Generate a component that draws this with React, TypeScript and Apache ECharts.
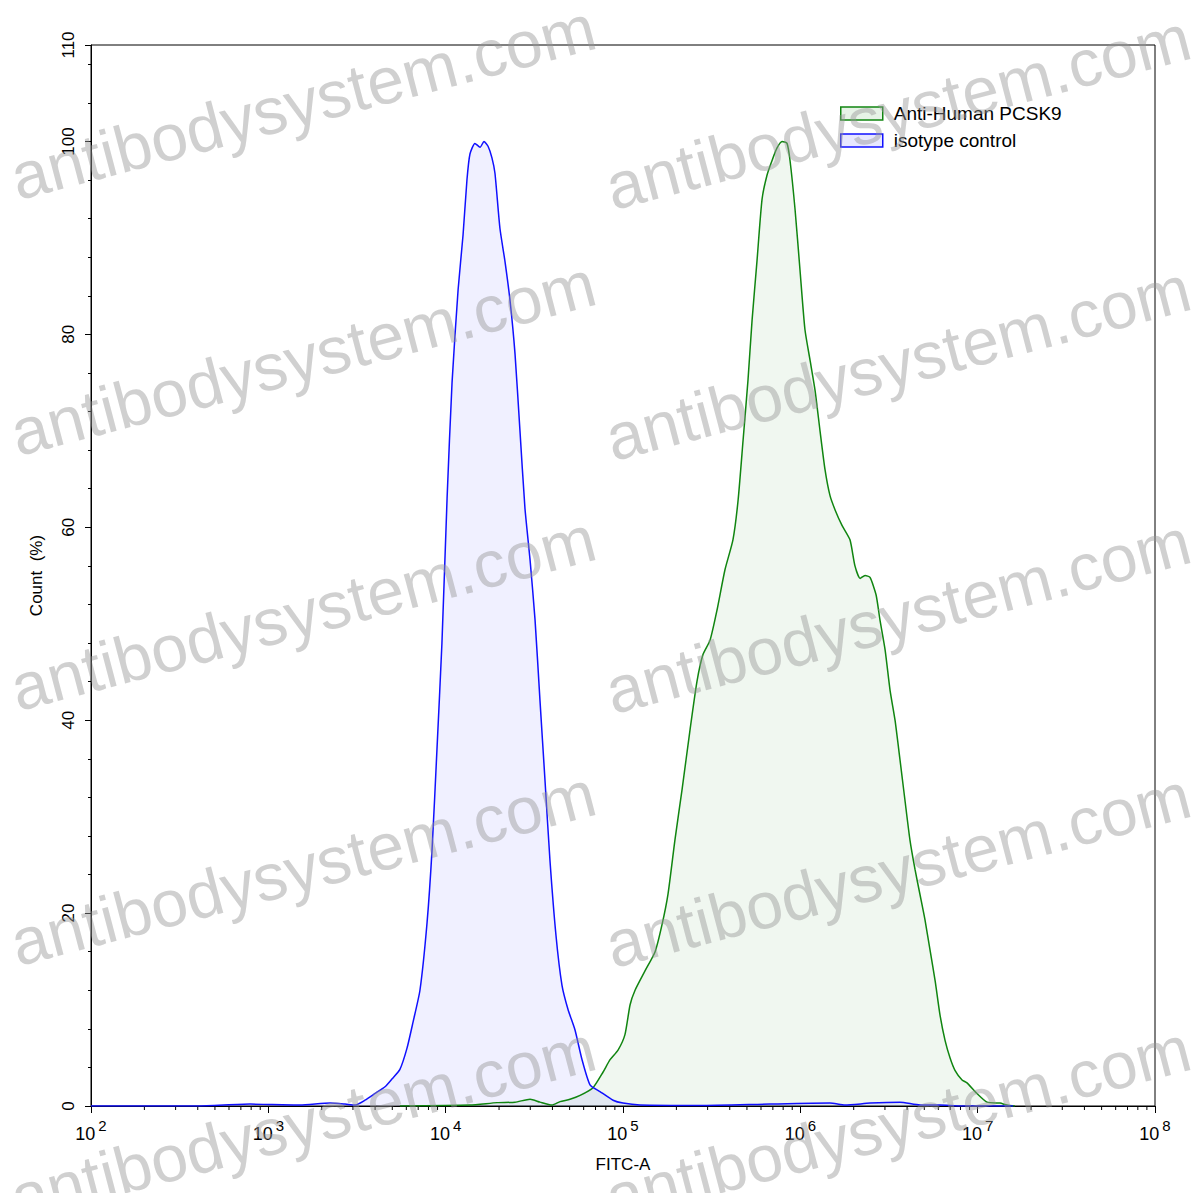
import React, { useEffect, useRef } from "react";
import * as echarts from "echarts";

// x values are log10(FITC-A)
const isotypeX = [2.0, 2.6, 2.897, 3.009, 3.179, 3.348, 3.432, 3.489, 3.545, 3.602, 3.658, 3.697, 3.742, 3.782, 3.816, 3.855, 3.895, 3.923, 3.951, 3.979, 4.008, 4.036, 4.07, 4.098, 4.12, 4.137, 4.165, 4.194, 4.216, 4.239, 4.261, 4.278, 4.306, 4.335, 4.363, 4.391, 4.419, 4.447, 4.476, 4.504, 4.532, 4.56, 4.588, 4.622, 4.656, 4.69, 4.729, 4.769, 4.814, 4.87, 4.944, 5.0, 5.096, 5.434, 5.829, 6.167, 6.252, 6.393, 6.562, 6.675, 6.788, 6.9, 7.2];
const isotypeY = [0, 0, 0.2, 0.15, 0.1, 0.3, 0.2, 0.1, 0.6, 1.3, 2.0, 2.8, 3.8, 6, 8.7, 12, 19, 26.5, 37, 48, 63, 75, 84.6, 90.3, 96, 98.7, 99.8, 99.4, 100, 99.5, 98.3, 96.7, 91, 87.5, 83.5, 78, 70, 62, 56.6, 50.4, 42, 33.8, 25.5, 17.7, 12.5, 10, 7.9, 4.8, 2.2, 1.5, 0.6, 0.3, 0.1, 0.05, 0.2, 0.3, 0.1, 0.3, 0.4, 0.1, 0.1, 0, 0];

const pcsk9X = [3.742, 4.137, 4.29, 4.391, 4.476, 4.532, 4.6, 4.645, 4.701, 4.758, 4.831, 4.887, 4.927, 4.972, 5.011, 5.04, 5.068, 5.124, 5.181, 5.22, 5.254, 5.293, 5.333, 5.378, 5.417, 5.451, 5.491, 5.53, 5.575, 5.62, 5.649, 5.677, 5.705, 5.728, 5.756, 5.784, 5.812, 5.84, 5.868, 5.897, 5.925, 5.942, 5.97, 5.998, 6.026, 6.055, 6.083, 6.111, 6.139, 6.167, 6.196, 6.235, 6.28, 6.308, 6.337, 6.365, 6.393, 6.427, 6.449, 6.478, 6.506, 6.534, 6.562, 6.59, 6.618, 6.647, 6.675, 6.703, 6.731, 6.76, 6.788, 6.816, 6.844, 6.872, 6.912, 6.94, 6.996, 7.053, 7.126, 7.165, 7.21];
const pcsk9Y = [0, 0.1, 0.35, 0.4, 0.7, 0.4, 0.1, 0.45, 0.7, 1.1, 1.9, 3.5, 4.8, 5.8, 7.4, 10.5, 12, 14, 16, 18.8, 22, 27.6, 32.8, 39, 44, 46.8, 48.3, 51.4, 55.6, 58.7, 62.8, 69, 75.3, 81.5, 87.7, 94, 96.5, 98, 99.3, 100, 99.8, 98, 93, 86.7, 80.5, 77.3, 74.2, 70, 66, 63.3, 61.8, 60.2, 58.7, 56, 54.7, 55, 54.8, 53, 50.4, 47.3, 43.1, 40, 35.9, 31.7, 27.6, 24.5, 21.9, 19.3, 16.2, 13, 9.4, 6.8, 5, 3.7, 2.7, 2.4, 1.3, 0.4, 0.3, 0.1, 0];

const seriesNames = ["Anti-Human PCSK9", "isotype control"];
const decades = [2, 3, 4, 5, 6, 7, 8];
const minorMultipliers = [2, 3, 4, 5, 6, 7, 8, 9];

const watermarkCenters = [
  [303, 102], [303, 358], [303, 613], [303, 868], [303, 1123],
  [898, 112], [898, 363], [898, 616], [898, 870], [898, 1123],
];

export default function App() {
  const ref = useRef<HTMLDivElement>(null);
  useEffect(() => {
    if (!ref.current) return;
    const chart = echarts.init(ref.current, undefined, { renderer: "svg" });
    const minorTicks: number[][] = [];
    decades.slice(0, -1).forEach((d) =>
      minorMultipliers.forEach((k) => minorTicks.push([d + Math.log10(k), 0]))
    );
    const font = "Liberation Sans, Arial, sans-serif";
    const green = "#108510";
    const blue = "#1010ff";
    chart.setOption({
      animation: false,
      backgroundColor: "#fff",
      textStyle: { fontFamily: font },
      grid: { left: 91, right: 42, top: 45, bottom: 87, show: true, borderColor: "#000", borderWidth: 1, backgroundColor: "transparent" },
      legend: {
        left: 835,
        top: 99,
        orient: "vertical",
        itemWidth: 42,
        itemHeight: 13,
        itemGap: 8,
        icon: "rect",
        textStyle: { fontSize: 19, color: "#000", fontFamily: font, padding: [0, 0, 0, 6] },
        data: [
          { name: seriesNames[0], itemStyle: { color: "rgba(16,133,16,0.1)", borderColor: green, borderWidth: 1.5 } },
          { name: seriesNames[1], itemStyle: { color: "rgba(16,16,255,0.1)", borderColor: blue, borderWidth: 1.5 } },
        ],
      },
      xAxis: {
        type: "value",
        min: decades[0],
        max: decades[decades.length - 1],
        interval: 1,
        name: "FITC-A",
        nameLocation: "middle",
        nameGap: 50,
        nameTextStyle: { fontSize: 17, color: "#000", fontFamily: font },
        axisLine: { show: true, lineStyle: { color: "#000", width: 1 } },
        axisTick: { show: true, length: 7, lineStyle: { color: "#000" } },
        splitLine: { show: false },
        axisLabel: {
          color: "#000",
          margin: 12,
          formatter: (v: number) => `{b|10}{s|${Math.round(v)}}`,
          rich: {
            b: { fontSize: 18, lineHeight: 25, verticalAlign: "bottom", fontFamily: font, color: "#000" },
            s: { fontSize: 15, lineHeight: 25, verticalAlign: "top", fontFamily: font, color: "#000", padding: [0, 0, 0, 3] },
          },
        },
      },
      yAxis: [
        {
          type: "value",
          min: 0,
          max: 110,
          interval: 20,
          name: "Count  (%)",
          nameLocation: "middle",
          nameRotate: 90,
          nameGap: 46,
          nameTextStyle: { fontSize: 17, color: "#000", fontFamily: font },
          axisLine: { show: true, lineStyle: { color: "#000", width: 1 } },
          axisTick: { show: true, length: 6, lineStyle: { color: "#000" } },
          splitLine: { show: false },
          axisLabel: { rotate: 90, fontSize: 17, color: "#000", margin: 14, fontFamily: font },
        },
        {
          type: "value",
          min: 0,
          max: 110,
          interval: 4,
          position: "left",
          axisLine: { show: false },
          axisTick: { show: true, length: 3, lineStyle: { color: "#000" } },
          axisLabel: { show: false },
          splitLine: { show: false },
        },
      ],
      graphic: watermarkCenters.map(([cx, cy]) => ({
        type: "text",
        x: cx,
        y: cy,
        rotation: (14.7 * Math.PI) / 180,
        z: 100,
        silent: true,
        style: {
          text: "antibodysystem.com",
          fontSize: 66,
          fontFamily: font,
          fill: "rgba(150,150,150,0.45)",
          align: "center",
          verticalAlign: "middle",
        },
      })),
      series: [
        {
          name: seriesNames[0],
          type: "line",
          data: pcsk9X.map((x, i) => [x, pcsk9Y[i]]),
          symbol: "none",
          smooth: 0.2,
          lineStyle: { color: green, width: 1.5 },
          itemStyle: { color: green },
          areaStyle: { color: "rgba(16,133,16,0.09)" },
        },
        {
          name: seriesNames[1],
          type: "line",
          data: isotypeX.map((x, i) => [x, isotypeY[i]]),
          symbol: "none",
          smooth: 0.2,
          lineStyle: { color: blue, width: 1.5 },
          itemStyle: { color: blue },
          areaStyle: { color: "rgba(16,16,255,0.09)" },
        },
        {
          type: "custom",
          silent: true,
          data: minorTicks,
          renderItem: (params: any, api: any) => {
            const p = api.coord([api.value(0), 0]);
            return {
              type: "line",
              shape: { x1: p[0], y1: p[1], x2: p[0], y2: p[1] + 4 },
              style: { stroke: "#000", lineWidth: 1 },
            };
          },
        },
      ],
    });
    return () => chart.dispose();
  }, []);
  return <div ref={ref} style={{ position: "fixed", left: 0, top: 0, width: 1197, height: 1193 }} />;
}
